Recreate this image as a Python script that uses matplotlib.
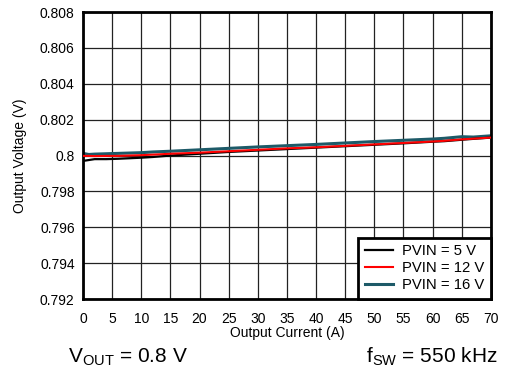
import matplotlib
matplotlib.use("Agg")
import matplotlib.pyplot as plt

plt.rcParams['font.family'] = ['Liberation Sans', 'DejaVu Sans']
plt.rcParams['mathtext.fontset'] = 'custom'
plt.rcParams['mathtext.rm'] = 'Liberation Sans'

current = [0, 1, 2, 4, 6, 8, 10, 12, 15, 20, 25, 30, 35, 40, 45, 50, 55, 60, 62, 65, 67, 70]
v_5 = [0.7997, 0.79975, 0.7998, 0.7998, 0.79982, 0.79985, 0.79988, 0.79992, 0.80000, 0.80010,
       0.80020, 0.80028, 0.80036, 0.80044, 0.80052, 0.80060, 0.80068, 0.80077, 0.80080,
       0.80088, 0.80093, 0.80100]
v_12 = [0.79998, 0.79998, 0.79997, 0.79998, 0.79998, 0.80000, 0.80002, 0.80005, 0.80010, 0.80016,
        0.80024, 0.80032, 0.80040, 0.80046, 0.80054, 0.80062, 0.80070, 0.80078, 0.80082,
        0.80090, 0.80094, 0.80100]
v_16 = [0.80012, 0.80006, 0.80008, 0.80010, 0.80012, 0.80014, 0.80016, 0.80020, 0.80024, 0.80032,
        0.80040, 0.80048, 0.80055, 0.80062, 0.80070, 0.80078, 0.80085, 0.80092, 0.80096,
        0.80105, 0.80103, 0.80110]
labels = ['PVIN = 5 V', 'PVIN = 12 V', 'PVIN = 16 V']
xticks = list(range(0, 71, 5))
yticks = [0.792, 0.794, 0.796, 0.798, 0.8, 0.802, 0.804, 0.806, 0.808]
yticklabels = ['0.792', '0.794', '0.796', '0.798', '0.8', '0.802', '0.804', '0.806', '0.808']

fig = plt.figure(figsize=(5.06, 3.81), dpi=100)
ax = fig.add_axes([0.164, 0.215, 0.806, 0.7535])

l1, = ax.plot(current, v_5, color='black', lw=1.6, zorder=3)
l3, = ax.plot(current, v_16, color='#1d5a68', lw=2.2, zorder=2)
l2, = ax.plot(current, v_12, color='#ff0000', lw=1.5, zorder=4)

ax.set_xlim(0, 70)
ax.set_ylim(0.792, 0.808)
ax.set_xticks(xticks)
ax.set_yticks(yticks)
ax.set_yticklabels(yticklabels)
ax.tick_params(length=0, labelsize=10, colors='black')
ax.tick_params(axis='x', pad=9)
ax.tick_params(axis='y', pad=6)
ax.grid(True, color='#222222', lw=0.9)
ax.set_axisbelow(True)
for s in ax.spines.values():
    s.set_linewidth(2)

ax.set_xlabel('Output Current (A)', fontsize=10, labelpad=0)
ax.set_ylabel('Output Voltage (V)', fontsize=10, labelpad=9)

leg = ax.legend([l1, l2, l3], labels, loc='lower right', fontsize=10.7,
                fancybox=False, framealpha=1, edgecolor='black',
                borderaxespad=0, handlelength=1.9, labelspacing=0.2,
                borderpad=0.45, handletextpad=0.6)
leg.get_frame().set_linewidth(2)

fig.text(0.134, 0.048, r'V$_{\mathrm{OUT}}$ = 0.8 V', fontsize=15, ha='left', va='baseline')
fig.text(0.983, 0.048, r'f$_{\mathrm{SW}}$ = 550 kHz', fontsize=15, ha='right', va='baseline')

fig.savefig('out.png', dpi=100)
